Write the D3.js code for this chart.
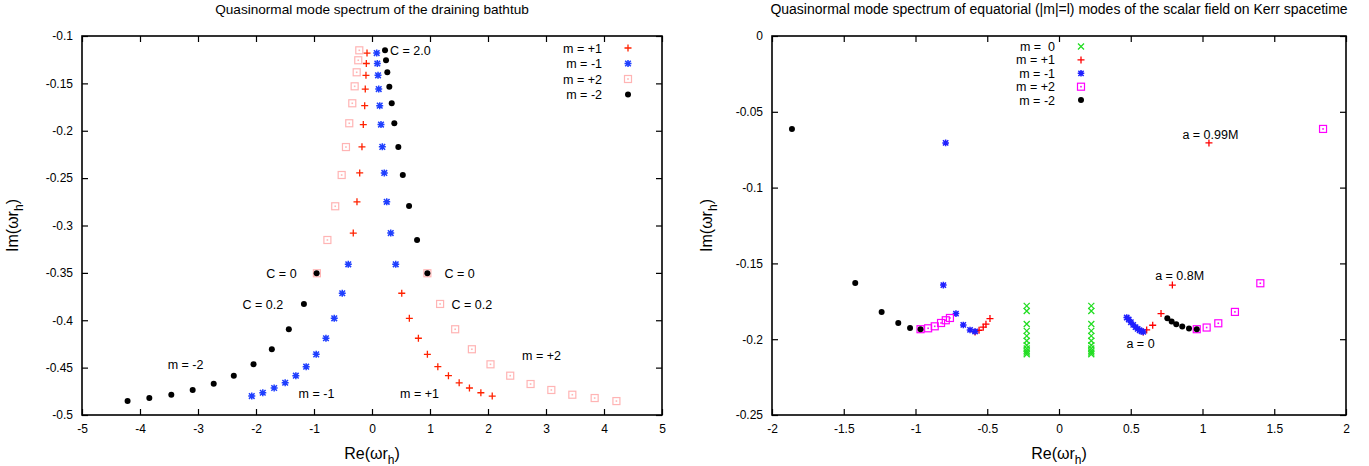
<!DOCTYPE html>
<html>
<head>
<meta charset="utf-8">
<script src="https://cdn.jsdelivr.net/npm/d3@7"></script>
<style>
  body { margin: 0; background: #fff; }
  svg text { font-family: "Liberation Sans", Arial, sans-serif; fill: #000; }
</style>
</head>
<body>
<svg id="chart" width="1369" height="466"></svg>
<script>
// ---- left panel : draining bathtub (x = Re, y = Im)
const bathP1Re = [-0.086, -0.098, -0.104, -0.116, -0.126, -0.150, -0.173, -0.212, -0.259, -0.323,
  0.513, 0.644, 0.800, 0.955, 1.135, 1.318, 1.503, 1.680, 1.877, 2.073];
const bathP1Im = [-0.118, -0.129, -0.1415, -0.156, -0.1735, -0.1935, -0.217, -0.2445, -0.275, -0.308,
  -0.3715, -0.398, -0.419, -0.436, -0.449, -0.4585, -0.466, -0.4715, -0.4765, -0.480];
const bathM1Re = [0.081, 0.092, 0.104, 0.116, 0.133, 0.155, 0.178, 0.212, 0.254, 0.323, 0.409,
  -0.409, -0.513, -0.651, -0.794, -0.962, -1.135, -1.313, -1.497, -1.687, -1.883, -2.073];
const bathM1Im = [-0.118, -0.129, -0.1415, -0.156, -0.1735, -0.1935, -0.217, -0.2445, -0.275, -0.308, -0.341,
  -0.341, -0.3715, -0.398, -0.419, -0.436, -0.449, -0.4585, -0.466, -0.4715, -0.4765, -0.480];
const bathP2Re = [-0.219, -0.237, -0.264, -0.299, -0.340, -0.392, -0.449, -0.523, -0.634, -0.769, -0.950,
  0.955, 1.174, 1.434, 1.722, 2.043, 2.383, 2.734, 3.092, 3.454, 3.839, 4.214];
const bathP2Im = [-0.1151, -0.1256, -0.1383, -0.1531, -0.171, -0.1921, -0.2172, -0.2467, -0.2797, -0.3153, -0.3504,
  -0.3504, -0.3828, -0.4095, -0.4306, -0.4465, -0.4585, -0.4673, -0.4736, -0.4786, -0.4821, -0.4853];
const bathM2Re = [0.2245, 0.2418, 0.264, 0.299, 0.340, 0.385, 0.454, 0.531, 0.639, 0.777, 0.955,
  -0.955, -1.174, -1.434, -1.727, -2.043, -2.383, -2.729, -3.092, -3.460, -3.839, -4.214];
const bathM2Im = [-0.1151, -0.1256, -0.1383, -0.1535, -0.171, -0.1921, -0.2172, -0.2467, -0.2794, -0.3153, -0.3504,
  -0.3504, -0.3828, -0.4095, -0.4306, -0.4465, -0.4585, -0.467, -0.4736, -0.4786, -0.4821, -0.4853];

const bathXTicks = [-5, -4, -3, -2, -1, 0, 1, 2, 3, 4, 5];
const bathYTicks = [-0.5, -0.45, -0.4, -0.35, -0.3, -0.25, -0.2, -0.15, -0.1];
const bathLabels = [
  {t: "C = 2.0", x: 0.31, y: -0.115, a: "start"},
  {t: "C = 0", x: -1.3, y: -0.3505, a: "end"},
  {t: "C = 0", x: 1.25, y: -0.3505, a: "start"},
  {t: "C = 0.2", x: -1.53, y: -0.383, a: "end"},
  {t: "C = 0.2", x: 1.37, y: -0.383, a: "start"},
  {t: "m = -2", x: -3.215, y: -0.447, a: "middle"},
  {t: "m = -1", x: -0.957, y: -0.4768, a: "middle"},
  {t: "m = +1", x: 0.819, y: -0.4768, a: "middle"},
  {t: "m = +2", x: 2.922, y: -0.4367, a: "middle"}
];

// ---- right panel : Kerr
const kerrM0Re = [-0.225, -0.225, -0.225, -0.225, -0.225, -0.225, -0.225, -0.225, -0.225, -0.225, -0.225,
  0.225, 0.225, 0.225, 0.225, 0.225, 0.225, 0.225, 0.225, 0.225, 0.225, 0.225];
const kerrM0Im = [-0.178, -0.1814, -0.190, -0.1945, -0.1978, -0.201, -0.204, -0.2061, -0.2077, -0.2088, -0.2099,
  -0.178, -0.1814, -0.190, -0.1945, -0.1978, -0.201, -0.204, -0.2061, -0.2077, -0.2088, -0.2099];
const kerrP1Re = [0.587, 0.611, 0.653, 0.711, 0.79, 1.045, -0.585, -0.557, -0.528, -0.509, -0.481];
const kerrP1Im = [-0.1952, -0.1939, -0.1908, -0.1831, -0.1643, -0.0705, -0.1952, -0.1941, -0.1921, -0.1901, -0.1864];
const kerrM1Re = [-0.585, -0.620, -0.667, -0.718, -0.806, -0.79,
  0.587, 0.575, 0.562, 0.548, 0.533, 0.517, 0.501, 0.486, 0.472];
const kerrM1Im = [-0.1949, -0.1939, -0.1906, -0.1831, -0.1643, -0.0705,
  -0.1952, -0.1948, -0.1941, -0.1932, -0.192, -0.1905, -0.1888, -0.187, -0.1857];
const kerrP2Re = [0.960, 1.029, 1.110, 1.226, 1.403, 1.84, -0.965, -0.912, -0.866, -0.822, -0.789, -0.760];
const kerrP2Im = [-0.1934, -0.1923, -0.1895, -0.182, -0.1631, -0.0613, -0.1934, -0.1928, -0.1915, -0.1893, -0.1875, -0.186];
const kerrM2Re = [-0.965, -1.038, -1.12, -1.236, -1.42, -1.861, 0.960, 0.906, 0.859, 0.817, 0.785, 0.755];
const kerrM2Im = [-0.1934, -0.1926, -0.1893, -0.182, -0.163, -0.0613, -0.1934, -0.193, -0.1916, -0.1901, -0.1884, -0.1862];

const kerrXTicks = [-2, -1.5, -1, -0.5, 0, 0.5, 1, 1.5, 2];
const kerrYTicks = [-0.25, -0.2, -0.15, -0.1, -0.05, 0];
const kerrLabels = [
  {t: "a = 0.99M", x: 0.86, y: -0.065, a: "start"},
  {t: "a = 0.8M", x: 0.67, y: -0.158, a: "start"},
  {t: "a = 0", x: 0.47, y: -0.203, a: "start"}
];

const svg = d3.select("#chart");

// paths of the gnuplot point types
function markPath(type, s) {
  if (type === "plus") return `M${-s},0H${s}M0,${-s}V${s}`;
  if (type === "cross") return `M${-s},${-s}L${s},${s}M${-s},${s}L${s},${-s}`;
  if (type === "star") return `M${-s},0H${s}M0,${-s}V${s}M${-s*0.8},${-s*0.8}L${s*0.8},${s*0.8}M${-s*0.8},${s*0.8}L${s*0.8},${-s*0.8}`;
  return "";
}

function addMark(sel, type, color, s) {
  if (type === "circle") {
    sel.append("circle").attr("r", s).attr("fill", color);
  } else if (type === "box") {
    sel.append("rect").attr("x", -s).attr("y", -s).attr("width", 2 * s).attr("height", 2 * s)
      .attr("fill", "none").attr("stroke", color).attr("stroke-width", 1.2);
    sel.append("rect").attr("x", -0.8).attr("y", -0.8).attr("width", 1.6).attr("height", 1.6).attr("fill", color);
  } else {
    sel.append("path").attr("d", markPath(type, s)).attr("fill", "none")
      .attr("stroke", color).attr("stroke-width", type === "star" ? 1.5 : 1.3);
  }
}

function tickFmt(d) { return String(+d.toFixed(2)); }

function panel(opt) {
  const x = d3.scaleLinear().domain(opt.xDom).range([opt.left, opt.right]);
  const y = d3.scaleLinear().domain(opt.yDom).range([opt.bottom, opt.top]);
  const g = svg.append("g");

  g.append("text").attr("x", (opt.left + opt.right) / 2).attr("y", 14)
    .attr("text-anchor", "middle").style("font-size", opt.titleSize).text(opt.title);

  // axes, ticks pointing inward on all four sides
  const axes = [
    [d3.axisBottom(x).tickValues(opt.xTicks), `translate(0,${opt.bottom})`, true],
    [d3.axisTop(x).tickValues(opt.xTicks), `translate(0,${opt.top})`, false],
    [d3.axisLeft(y).tickValues(opt.yTicks), `translate(${opt.left},0)`, true],
    [d3.axisRight(y).tickValues(opt.yTicks), `translate(${opt.right},0)`, false]
  ];
  axes.forEach(([ax, tr, lab]) => {
    const a = g.append("g").attr("transform", tr)
      .call(ax.tickSize(-6).tickPadding(9).tickFormat(lab ? tickFmt : () => ""));
    a.select(".domain").remove();
    a.selectAll(".tick line").attr("stroke", "#000").attr("stroke-width", 1.2);
    a.selectAll(".tick text").style("font-size", "12px").attr("fill", "#000")
      .style("font-family", "'Liberation Sans', Arial, sans-serif");
  });
  g.append("rect").attr("x", opt.left).attr("y", opt.top)
    .attr("width", opt.right - opt.left).attr("height", opt.bottom - opt.top)
    .attr("fill", "none").attr("stroke", "#000").attr("stroke-width", 1.6);

  // axis titles
  const xl = g.append("text").attr("x", (opt.left + opt.right) / 2).attr("y", 459)
    .attr("text-anchor", "middle").style("font-size", "16px");
  xl.append("tspan").text("Re(ωr");
  xl.append("tspan").attr("dy", 5).style("font-size", "12px").text("h");
  xl.append("tspan").attr("dy", -5).text(")");
  const yl = g.append("text").attr("transform", `translate(${opt.left - opt.yLabOff},${(opt.top + opt.bottom) / 2}) rotate(-90)`)
    .attr("text-anchor", "middle").style("font-size", "16px");
  yl.append("tspan").text("Im(ωr");
  yl.append("tspan").attr("dy", 5).style("font-size", "12px").text("h");
  yl.append("tspan").attr("dy", -5).text(")");

  // series
  opt.series.forEach(s => {
    const pts = s.re.map((r, i) => [r, s.im[i]]);
    const sel = g.append("g").selectAll("g").data(pts).join("g")
      .attr("transform", d => `translate(${x(d[0])},${y(d[1])})`);
    addMark(sel, s.type, s.color, s.size);
  });

  // legend
  opt.series.forEach((s, i) => {
    const ly = opt.legY + i * opt.legStep;
    g.append("text").attr("x", opt.legX).attr("y", ly + 4.5).attr("text-anchor", "end")
      .style("font-size", "12.5px").style("white-space", "pre").text(s.name);
    addMark(g.append("g").attr("transform", `translate(${opt.legX + 26},${ly})`), s.type, s.color, s.size);
  });

  // annotations
  opt.labels.forEach(l => {
    g.append("text").attr("x", x(l.x)).attr("y", y(l.y) + 4.5).attr("text-anchor", l.a)
      .style("font-size", "12.5px").text(l.t);
  });
}

panel({
  title: "Quasinormal mode spectrum of the draining bathtub", titleSize: "13.6px",
  left: 82, right: 662, top: 36, bottom: 415, yLabOff: 64,
  xDom: [-5, 5], yDom: [-0.5, -0.1], xTicks: bathXTicks, yTicks: bathYTicks,
  legX: 602, legY: 48, legStep: 15.5,
  labels: bathLabels,
  series: [
    {name: "m = +1", re: bathP1Re, im: bathP1Im, type: "plus", color: "#ff2200", size: 3.5},
    {name: "m = -1", re: bathM1Re, im: bathM1Im, type: "star", color: "#1f3fff", size: 3.5},
    {name: "m = +2", re: bathP2Re, im: bathP2Im, type: "box", color: "#ffb4b4", size: 3.5},
    {name: "m = -2", re: bathM2Re, im: bathM2Im, type: "circle", color: "#000", size: 3}
  ]
});

panel({
  title: "Quasinormal mode spectrum of equatorial (|m|=l) modes of the scalar field on Kerr spacetime", titleSize: "14px",
  left: 772, right: 1346, top: 36, bottom: 415, yLabOff: 60,
  xDom: [-2, 2], yDom: [-0.25, 0], xTicks: kerrXTicks, yTicks: kerrYTicks,
  legX: 1055, legY: 46.5, legStep: 13.4,
  labels: kerrLabels,
  series: [
    {name: "m =  0", re: kerrM0Re, im: kerrM0Im, type: "cross", color: "#22dd22", size: 3},
    {name: "m = +1", re: kerrP1Re, im: kerrP1Im, type: "plus", color: "#ff0000", size: 3.5},
    {name: "m = -1", re: kerrM1Re, im: kerrM1Im, type: "star", color: "#1f1fff", size: 3.3},
    {name: "m = +2", re: kerrP2Re, im: kerrP2Im, type: "box", color: "#ff00ff", size: 3.5},
    {name: "m = -2", re: kerrM2Re, im: kerrM2Im, type: "circle", color: "#000", size: 3}
  ]
});
</script>
</body>
</html>
